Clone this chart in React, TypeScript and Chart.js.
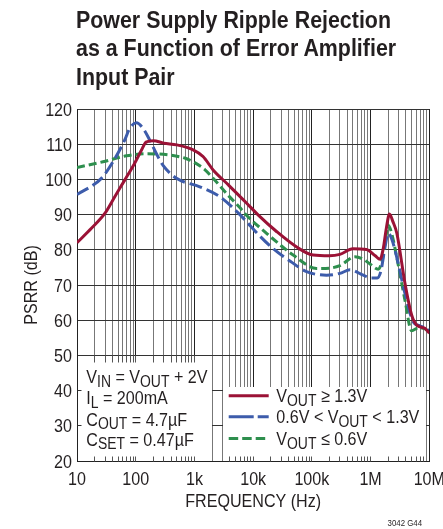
import React, { useEffect, useRef } from 'react';
import { Chart, registerables } from 'chart.js';

Chart.register(...registerables);

const FONT = '"Liberation Sans", Arial, Helvetica, sans-serif';
const TEXT_COLOR = '#231f20';
const RED = '#9b1236';
const BLUE = '#3d5cab';
const GREEN = '#2e8f4e';
const SX = 0.87; // horizontal condensing of label text

const TITLE_LINES = ['Power Supply Ripple Rejection', 'as a Function of Error Amplifier', 'Input Pair'];
const X_TITLE = 'FREQUENCY (Hz)';
const Y_TITLE = 'PSRR (dB)';
const NOTE = '3042 G44';

const X_MIN = 10;
const X_MAX = 1e7;
const X_TICK_VALUES = [10, 100, 1000, 1e4, 1e5, 1e6, 1e7];
const X_TICK_LABELS = ['10', '100', '1k', '10k', '100k', '1M', '10M'];
const Y_MIN = 20;
const Y_MAX = 120;
const Y_STEP = 10;

// V_OUT >= 1.3V
const redFreq = [10, 17.6, 30, 44, 65, 96, 125, 150, 200, 300, 500, 950, 1400, 2080, 3750, 7700, 12000, 25000, 58500, 105000, 200000, 300000, 500000, 850000, 1200000, 1450000, 1650000, 1850000, 2100000, 2400000, 2800000, 3850000, 5000000, 6100000, 8400000, 10000000];
const redPsrr = [82, 86.1, 90.4, 95.1, 99.8, 104.6, 108.3, 110.6, 111, 110.3, 109.8, 108.4, 106.5, 102.7, 98.5, 93.3, 90, 85.2, 80.5, 78.5, 78.3, 78.7, 80.3, 80.1, 78.3, 77.3, 80.5, 86, 90.2, 88, 84.7, 70.5, 61.5, 58.6, 57.7, 56.3];

// 0.6V < V_OUT < 1.3V
const blueFreq = [10, 26, 41, 65, 79, 103, 133, 173, 230, 292, 495, 1234, 2700, 5550, 7710, 12000, 22000, 45000, 81300, 178000, 300000, 445000, 750000, 1000000, 1300000, 1500000, 1750000, 2000000, 2300000, 2780000, 3850000, 5300000, 6900000, 8900000, 10000000];
const bluePsrr = [95.7, 100.3, 105, 111.2, 114.5, 116.1, 114.5, 111.2, 107, 104, 100.3, 97.9, 95.1, 90.5, 88, 84.5, 80.3, 76.5, 73.8, 72.8, 73.3, 74.3, 72.8, 72, 72, 74, 80.5, 84.7, 83, 78, 67.6, 59.6, 58.4, 57.8, 57.3];

// V_OUT <= 0.6V
const greenFreq = [10, 27.7, 69.5, 152, 380, 700, 949, 1500, 2080, 3750, 5930, 7200, 16900, 34700, 48000, 120000, 200000, 300000, 541000, 750000, 975000, 1350000, 1600000, 1800000, 2000000, 2300000, 2780000, 3850000, 5000000, 6500000, 8500000, 10000000];
const greenPsrr = [103.4, 105, 106.7, 107.3, 106.9, 106, 105, 102.8, 100.3, 95.5, 92, 90.3, 84.7, 80.3, 78.5, 74.7, 74.8, 75.5, 78, 77.3, 76, 74.5, 77.5, 83, 87, 84.5, 78, 65.7, 57, 57.8, 57.5, 56.6];

type Part = { t: string; sub?: boolean };
const CONDITION_LINES: Part[][] = [
  [{ t: 'V' }, { t: 'IN', sub: true }, { t: ' = V' }, { t: 'OUT', sub: true }, { t: ' + 2V' }],
  [{ t: 'I' }, { t: 'L', sub: true }, { t: ' = 200mA' }],
  [{ t: 'C' }, { t: 'OUT', sub: true }, { t: ' = 4.7µF' }],
  [{ t: 'C' }, { t: 'SET', sub: true }, { t: ' = 0.47µF' }],
];
const SERIES_LABELS: Part[][] = [
  [{ t: 'V' }, { t: 'OUT', sub: true }, { t: ' ≥ 1.3V' }],
  [{ t: '0.6V < V' }, { t: 'OUT', sub: true }, { t: ' < 1.3V' }],
  [{ t: 'V' }, { t: 'OUT', sub: true }, { t: ' ≤ 0.6V' }],
];

const gridValues: number[] = [];
for (let d = 10; d < X_MAX; d *= 10) {
  for (let m = 1; m <= 9; m++) gridValues.push(d * m);
}
gridValues.push(X_MAX);

const isDecade = (v: number) => X_TICK_VALUES.some((t) => Math.abs(t - v) / t < 1e-6);

const MAIN_FONT = `18.5px ${FONT}`;
const SUB_FONT = `16px ${FONT}`;

function drawScaled(ctx: CanvasRenderingContext2D, text: string, x: number, y: number, align: string, font: string) {
  ctx.save();
  ctx.font = font;
  const w = ctx.measureText(text).width * SX;
  const x0 = align === 'left' ? x : align === 'center' ? x - w / 2 : x - w;
  ctx.translate(x0, y);
  ctx.scale(SX, 1);
  ctx.textAlign = 'left';
  ctx.textBaseline = 'alphabetic';
  ctx.fillText(text, 0, 0);
  ctx.restore();
}

function drawRich(ctx: CanvasRenderingContext2D, parts: Part[], x: number, y: number) {
  let cx = x;
  for (const p of parts) {
    const f = p.sub ? SUB_FONT : MAIN_FONT;
    drawScaled(ctx, p.t, cx, p.sub ? y + 3.5 : y, 'left', f);
    ctx.font = f;
    cx += ctx.measureText(p.t).width * SX;
  }
}

const al = (p: number) => Math.round(p - 0.5) + 0.5;

const boxesPlugin = {
  id: 'boxes',
  beforeDatasetsDraw(chart: any) {
    const ctx = chart.ctx as CanvasRenderingContext2D;
    const xs = chart.scales.x;
    const ys = chart.scales.y;
    const left = al(xs.getPixelForValue(X_MIN));
    const bottom = al(ys.getPixelForValue(Y_MIN));
    const y50 = al(ys.getPixelForValue(50));
    const x2k = al(xs.getPixelForValue(2000));
    const x3k = al(xs.getPixelForValue(3000));
    const x9M = al(xs.getPixelForValue(9e6));
    const rTop = 387;
    ctx.save();
    ctx.fillStyle = '#ffffff';
    ctx.fillRect(left + 0.5, y50 + 0.5, x2k - left - 1, bottom - y50 - 1);
    ctx.fillRect(x3k + 0.5, rTop, x9M - x3k - 1, bottom - 0.5 - rTop);
    ctx.lineWidth = 1;
    ctx.strokeStyle = '#555';
    ctx.beginPath();
    for (const v of gridValues) {
      const px = al(xs.getPixelForValue(v));
      if (px > left + 1 && px < x2k - 1) {
        ctx.moveTo(px, bottom);
        ctx.lineTo(px, bottom - 5);
        ctx.moveTo(px, y50);
        ctx.lineTo(px, y50 + 7);
      }
      if (px > x3k + 1 && px < x9M - 1) {
        ctx.moveTo(px, bottom);
        ctx.lineTo(px, bottom - 5);
      }
    }
    ctx.stroke();
    ctx.strokeStyle = '#333';
    ctx.beginPath();
    for (const v of [30, 40]) {
      const py = al(ys.getPixelForValue(v));
      ctx.moveTo(left, py);
      ctx.lineTo(left + 4, py);
    }
    ctx.stroke();
    ctx.restore();
  },
  afterDraw(chart: any) {
    const ctx = chart.ctx as CanvasRenderingContext2D;
    const xs = chart.scales.x;
    const ys = chart.scales.y;
    ctx.save();
    ctx.fillStyle = TEXT_COLOR;

    for (let v = Y_MIN; v <= Y_MAX; v += Y_STEP) {
      const py = ys.getPixelForValue(v);
      drawScaled(ctx, String(v), 72, py + 6.6, 'right', MAIN_FONT);
    }
    X_TICK_VALUES.forEach((v, i) => {
      drawScaled(ctx, X_TICK_LABELS[i], xs.getPixelForValue(v), 485, 'center', MAIN_FONT);
    });
    drawScaled(ctx, X_TITLE, (chart.chartArea.left + chart.chartArea.right) / 2, 507, 'center', MAIN_FONT);
    ctx.save();
    ctx.translate(36.5, (chart.chartArea.top + chart.chartArea.bottom) / 2);
    ctx.rotate(-Math.PI / 2);
    drawScaled(ctx, Y_TITLE, 0, 0, 'center', MAIN_FONT);
    ctx.restore();

    const condBase = [383.3, 404.3, 425.7, 445.5];
    CONDITION_LINES.forEach((parts, i) => drawRich(ctx, parts, 86.3, condBase[i]));

    const serBase = [402.3, 423.3, 445];
    const colors = [RED, BLUE, GREEN];
    const dashes = [[], [25, 4], [9.5, 4]];
    SERIES_LABELS.forEach((parts, i) => {
      ctx.save();
      ctx.strokeStyle = colors[i];
      ctx.lineWidth = 3;
      ctx.setLineDash(dashes[i]);
      ctx.beginPath();
      const ly = serBase[i] - 6.5;
      ctx.moveTo(228.7, ly);
      ctx.lineTo(268.7, ly);
      ctx.stroke();
      ctx.restore();
      ctx.fillStyle = TEXT_COLOR;
      drawRich(ctx, parts, 276.3, serBase[i]);
    });
    drawScaled(ctx, NOTE, 422, 525.5, 'right', `9px ${FONT}`);
    ctx.restore();
  },
};

const mk = (f: number[], v: number[]) => f.map((x, i) => ({ x, y: v[i] }));

export default function App() {
  const ref = useRef<HTMLCanvasElement | null>(null);
  useEffect(() => {
    if (!ref.current) return;
    const chart = new Chart(ref.current, {
      type: 'line',
      data: {
        datasets: [
          { label: 'red', data: mk(redFreq, redPsrr), borderColor: RED, borderWidth: 3, pointRadius: 0, cubicInterpolationMode: 'monotone', fill: false } as any,
          { label: 'blue', data: mk(blueFreq, bluePsrr), borderColor: BLUE, borderWidth: 3, borderDash: [13, 5], pointRadius: 0, cubicInterpolationMode: 'monotone', fill: false } as any,
          { label: 'green', data: mk(greenFreq, greenPsrr), borderColor: GREEN, borderWidth: 3, borderDash: [8, 4], pointRadius: 0, cubicInterpolationMode: 'monotone', fill: false } as any,
        ],
      },
      options: {
        animation: false,
        responsive: false,
        parsing: false as any,
        layout: { padding: { top: 109, right: 13.7, left: 0, bottom: 0 } },
        plugins: { legend: { display: false }, title: { display: false }, tooltip: { enabled: false } },
        scales: {
          x: {
            type: 'logarithmic',
            min: X_MIN,
            max: X_MAX,
            afterBuildTicks: (s: any) => {
              s.ticks = gridValues.map((value) => ({ value }));
            },
            afterFit: (s: any) => {
              s.height = 68;
            },
            ticks: { display: false, autoSkip: false, maxRotation: 0 },
            grid: {
              color: (c: any) => (c.tick && isDecade(c.tick.value) ? '#222' : '#777'),
              lineWidth: 1,
              drawTicks: false,
            },
            border: { display: true, color: '#222', width: 1 },
            title: { display: false },
          } as any,
          y: {
            type: 'linear',
            min: Y_MIN,
            max: Y_MAX,
            afterFit: (s: any) => {
              s.width = 77;
            },
            ticks: { display: false, stepSize: Y_STEP },
            grid: { color: '#333', lineWidth: 1, drawTicks: false },
            border: { display: true, color: '#222', width: 1 },
            title: { display: false },
          } as any,
        },
      },
      plugins: [boxesPlugin],
    });
    return () => chart.destroy();
  }, []);

  return (
    <div style={{ position: 'absolute', left: 0, top: 0, width: 443, height: 529, background: '#fff', overflow: 'hidden' }}>
      <canvas ref={ref} width={443} height={529} style={{ position: 'absolute', left: 0, top: 0, width: 443, height: 529 }} />
      <div
        style={{
          position: 'absolute',
          left: 76,
          top: 6.2,
          fontFamily: FONT,
          fontWeight: 'bold',
          fontSize: 23,
          lineHeight: '28.3px',
          color: TEXT_COLOR,
          whiteSpace: 'nowrap',
          transform: 'scaleX(0.93)',
          transformOrigin: 'left top',
        }}
      >
        {TITLE_LINES.map((l, i) => (
          <div key={i}>{l}</div>
        ))}
      </div>
    </div>
  );
}
